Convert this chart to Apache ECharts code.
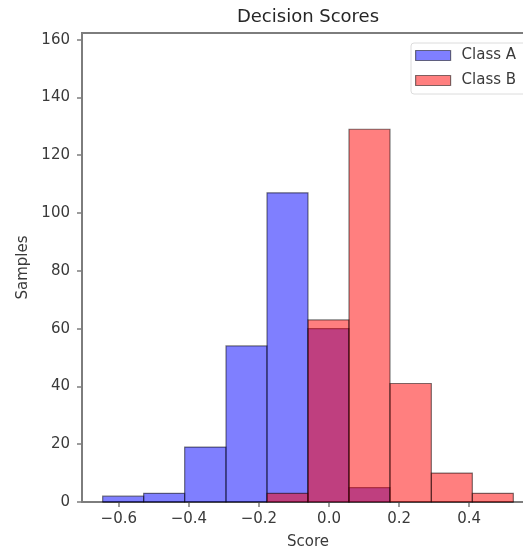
<!DOCTYPE html>
<html>
<head>
<meta charset="utf-8">
<script src="https://cdn.jsdelivr.net/npm/echarts@6/dist/echarts.min.js"></script>
<style>
  html, body { margin: 0; padding: 0; background: #fff; }
  #chart { width: 523px; height: 548px; }
</style>
</head>
<body>
<div id="chart"></div>
<script>
// histogram bins shared by both classes
const binEdges = [-0.646, -0.529, -0.412, -0.294, -0.177, -0.060, 0.057, 0.174, 0.292, 0.409, 0.526];
const classA = [2, 3, 19, 54, 107, 60, 5, 0, 0, 0];
const classB = [0, 0, 0, 0, 3, 63, 129, 41, 10, 3];
const xTicks = [-0.6, -0.4, -0.2, 0.0, 0.2, 0.4];
const yTicks = [0, 20, 40, 60, 80, 100, 120, 140, 160];

const FONT = 'DejaVu Sans';
const AXIS_COLOR = '#7d7d7d';

function toBins(counts) {
  return counts.map((c, i) => [binEdges[i], binEdges[i + 1], c]);
}

function histSeries(name, counts, fill) {
  return {
    name: name,
    type: 'custom',
    itemStyle: { color: fill, borderColor: 'rgba(0,0,0,0.5)', borderWidth: 1.2 },
    renderItem: (params, api) => {
      const p0 = api.coord([api.value(0), 0]);
      const p1 = api.coord([api.value(1), api.value(2)]);
      return {
        type: 'rect',
        shape: { x: p0[0], y: p1[1], width: p1[0] - p0[0], height: p0[1] - p1[1] },
        style: { fill: fill, stroke: 'rgba(0,0,0,0.5)', lineWidth: 1.2 }
      };
    },
    encode: { x: [0, 1], y: 2 },
    data: toBins(counts)
  };
}

const minus = v => (v < 0 ? '\u2212' + Math.abs(v).toFixed(1) : v.toFixed(1));

const chart = echarts.init(document.getElementById('chart'));
chart.setOption({
  animation: false,
  textStyle: { fontFamily: FONT },
  title: {
    text: 'Decision Scores',
    left: 308,
    textAlign: 'center',
    top: 8,
    padding: 0,
    textStyle: { fontFamily: FONT, fontSize: 18, fontWeight: 'normal', color: '#262626' }
  },
  legend: {
    orient: 'vertical',
    left: 411,
    top: 43,
    padding: [5, 30, 6, 4],
    itemGap: 10,
    itemWidth: 35,
    itemHeight: 10,
    backgroundColor: '#fff',
    borderColor: '#dcdcdc',
    borderWidth: 1,
    borderRadius: 3,
    textStyle: { fontFamily: FONT, fontSize: 15, color: '#3a3a3a', padding: [0, 0, 0, 6] },
    data: [
      { name: 'Class A', icon: 'rect', itemStyle: { color: 'rgba(0,0,255,0.5)', borderColor: 'rgba(0,0,0,0.5)', borderWidth: 1.2 } },
      { name: 'Class B', icon: 'rect', itemStyle: { color: 'rgba(255,0,0,0.5)', borderColor: 'rgba(0,0,0,0.5)', borderWidth: 1.2 } }
    ]
  },
  grid: {
    left: 82, top: 33, right: -11, bottom: 46,
    outerBoundsMode: 'none',
    containLabel: false,
    show: true, borderColor: AXIS_COLOR, borderWidth: 2, backgroundColor: '#fff'
  },
  xAxis: {
    type: 'value',
    min: -0.705,
    max: 0.585,
    name: 'Score',
    nameLocation: 'middle',
    nameGap: 33,
    nameTextStyle: { fontFamily: FONT, fontSize: 15, color: '#3a3a3a' },
    splitLine: { show: false },
    axisLine: { show: true, onZero: false, lineStyle: { color: AXIS_COLOR, width: 2 } },
    axisTick: { show: true, length: 5, customValues: xTicks, lineStyle: { color: AXIS_COLOR, width: 1.5 } },
    axisLabel: { customValues: xTicks, margin: 10, formatter: minus, fontFamily: FONT, fontSize: 15, color: '#3a3a3a' }
  },
  yAxis: {
    type: 'value',
    min: 0,
    max: 162.3,
    name: 'Samples',
    nameLocation: 'middle',
    nameGap: 47,
    nameTextStyle: { fontFamily: FONT, fontSize: 15, color: '#3a3a3a' },
    splitLine: { show: false },
    axisLine: { show: true, onZero: false, lineStyle: { color: AXIS_COLOR, width: 2 } },
    axisTick: { show: true, length: 5, customValues: yTicks, lineStyle: { color: AXIS_COLOR, width: 1.5 } },
    axisLabel: { customValues: yTicks, margin: 12, fontFamily: FONT, fontSize: 15, color: '#3a3a3a' }
  },
  series: [
    histSeries('Class A', classA, 'rgba(0,0,255,0.5)'),
    histSeries('Class B', classB, 'rgba(255,0,0,0.5)')
  ]
});
</script>
</body>
</html>
